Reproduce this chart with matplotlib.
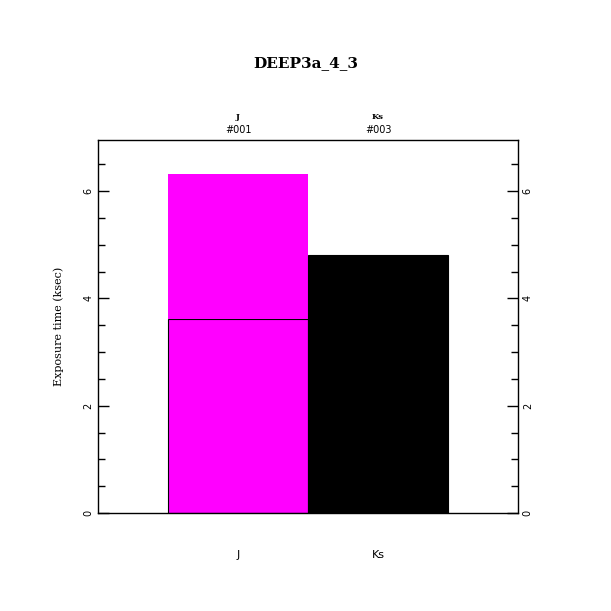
import matplotlib
matplotlib.use("Agg")
import matplotlib.pyplot as plt
from matplotlib.ticker import MultipleLocator

title = "DEEP3a_4_3"
filters = ["J", "Ks"]
ids = ["#001", "#003"]
# exposure time (ksec): lower segment and total
lower = [3.61, 4.80]
total = [6.32, 4.80]
colors = ["#ff00ff", "#000000"]


def main():
    fig = plt.figure(figsize=(6.11, 6.11), dpi=100)
    ax = fig.add_axes([0.1604, 0.1604, 0.6874, 0.6105])

    pos = [1, 2]
    for i in range(len(filters)):
        ax.bar(pos[i], lower[i], width=1.0, color=colors[i],
               edgecolor="black", linewidth=0.8)
        if total[i] > lower[i]:
            ax.bar(pos[i], total[i] - lower[i], bottom=lower[i], width=1.0,
                   color=colors[i], linewidth=0)

    ax.set_xlim(0, 3)
    ax.set_ylim(0, 1.1 * max(total))

    ax.yaxis.set_major_locator(MultipleLocator(2))
    ax.yaxis.set_minor_locator(MultipleLocator(0.5))
    ax.tick_params(axis="y", which="both", direction="in", left=True, right=True,
                   labelleft=True, labelright=True, labelsize=7,
                   labelrotation=90, width=1)
    ax.tick_params(axis="y", which="major", length=8)
    ax.tick_params(axis="y", which="minor", length=5)
    for lab in ax.get_yticklabels():
        lab.set_verticalalignment("center")
    ax.set_xticks([])
    for s in ax.spines.values():
        s.set_linewidth(1)

    ax.set_ylabel("Exposure time (ksec)", family="DejaVu Serif", fontsize=8,
                  labelpad=14)

    for i in range(len(filters)):
        ax.text(pos[i], -0.113, filters[i], transform=ax.get_xaxis_transform(),
                ha="center", va="center", fontsize=8)
        ax.text(pos[i], 1.062, filters[i], transform=ax.get_xaxis_transform(),
                ha="center", va="center", fontsize=6, family="DejaVu Serif",
                fontweight="bold")
        ax.text(pos[i], 1.027, ids[i], transform=ax.get_xaxis_transform(),
                ha="center", va="center", fontsize=7)

    fig.text(0.5, 0.897, title, ha="center", va="center", fontsize=11,
             family="DejaVu Serif", fontweight="bold")

    fig.savefig("out.png", dpi=100)


if __name__ == "__main__":
    main()
